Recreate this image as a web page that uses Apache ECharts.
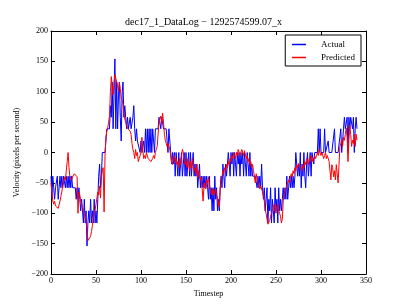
<!DOCTYPE html>
<html>
<head>
<meta charset="utf-8">
<script src="https://cdn.jsdelivr.net/npm/echarts@6/dist/echarts.min.js"></script>
<style>html,body{margin:0;padding:0;background:#fff;}#c{width:407px;height:305px;}</style>
</head>
<body>
<div id="c"></div>
<script>
var titleText = 'dec17_1_DataLog \u2212 1292574599.07_x';
var seriesNames = ['Actual', 'Predicted'];
var xTicks = [0, 50, 100, 150, 200, 250, 300, 350];
var yTicks = [-200, -150, -100, -50, 0, 50, 100, 150, 200];

var actual = [
-39,-77,-39,-58,-77,-58,-58,-39,-77,-58,
-39,-58,-39,-58,-39,-39,-58,-39,-58,-39,
-58,-39,-58,-39,-58,-58,-58,-58,-77,-58,
-77,-58,-77,-96,-77,-96,-116,-77,-116,-96,
-154,-116,-96,-116,-77,-116,-96,-116,-77,-116,
-96,-116,-77,-39,-19,-58,-39,0,0,0,
0,0,39,39,39,39,77,58,116,39,
96,154,39,116,39,96,116,58,19,96,
116,58,77,58,39,58,39,39,58,39,
39,58,77,39,19,39,19,19,19,0,
19,0,0,19,0,39,0,39,0,39,
0,39,0,39,39,0,39,39,39,39,
58,58,39,58,58,39,39,39,39,19,
0,39,39,0,-19,0,-19,0,-39,0,
-19,-39,0,-39,-19,0,-39,-19,0,-39,
0,-39,-19,0,-39,0,-39,-19,0,-39,
-19,-39,-19,-58,-39,-19,-58,-39,-58,-39,
-58,-39,-58,-39,-58,-77,-39,-77,-58,-96,
-58,-96,-39,-77,-58,-96,-77,-96,-58,-39,
-58,-19,-39,-58,-19,-39,-19,0,-19,-39,
0,-19,0,-39,0,-19,-39,0,-19,0,
-39,0,-19,0,-39,0,-19,-39,0,-19,
-39,0,-39,-19,-39,-39,-39,-39,-39,-58,
-39,-58,-39,-58,-19,-58,-77,-58,-96,-77,
-58,-116,-77,-96,-58,-116,-77,-96,-116,-58,
-96,-77,-116,-58,-96,-77,-96,-77,-58,-77,
-58,-77,-39,-77,-58,-39,-58,-39,-58,-39,
-58,-39,0,-19,-39,-19,-39,0,-58,-19,
-39,0,-39,-58,-19,0,-39,-19,0,-39,
0,0,-19,0,0,0,0,39,0,39,
0,0,0,0,39,0,0,0,19,0,
0,0,0,0,0,39,0,0,0,0,
0,0,39,0,19,39,58,39,39,58,
0,58,39,58,58,39,58,0,39,58,
39
];

var predicted = [
-50,-65,-80,-85,-80,-88,-90,-85,-92,-95,
-80,-72,-65,-55,-50,-40,-45,-30,-15,0,
-25,-40,-42,-45,-40,-38,-35,-33,-38,-40,
-100,-65,-70,-80,-85,-90,-95,-100,-105,-115,
-125,-145,-145,-142,-138,-130,-120,-110,-100,-95,
-85,-75,-65,-70,-55,-75,-40,-30,-25,-98,
-5,25,35,40,50,60,100,125,110,95,
115,128,122,120,110,100,115,105,90,88,
80,65,55,50,45,40,42,38,35,30,
15,5,0,-10,5,-5,0,-15,-10,-5,
0,25,5,-10,-5,-10,0,-5,-10,-8,
-12,-15,-18,-10,-5,-10,0,5,10,30,
50,55,60,48,65,50,30,20,15,10,
15,10,5,-5,-15,-20,-10,-5,-15,-10,
-20,-15,-25,-10,-20,-5,5,0,-10,-20,
-15,-25,-10,-20,-30,-15,-25,-10,-20,-30,
-25,-35,-20,-40,-30,-40,-45,-40,-60,-80,
-55,-50,-60,-45,-50,-40,-55,-60,-65,-70,
-60,-70,-65,-60,-70,-75,-85,-90,-60,-45,
-40,-30,-35,-25,-30,-20,-25,-15,-20,-10,
-15,-5,-10,0,-5,-10,0,-5,5,0,
-5,0,5,0,-5,3,0,-10,-5,-15,
-10,-20,-15,-25,-20,-30,-40,-50,-35,-45,
-50,-55,-60,-55,-60,-65,-70,-80,-95,-100,
-110,-118,-115,-112,-105,-100,-95,-90,-85,-95,
-100,-90,-85,-95,-100,-105,-116,-110,-80,-70,
-65,-60,-55,-50,-45,-50,-40,-35,-40,-30,
-35,-25,-30,-20,-25,-18,-22,-25,-20,-30,
-20,-25,-15,-20,-10,-15,-20,-10,-15,-5,
-10,-15,-10,-5,-10,-5,0,-5,5,0,
-5,0,-5,-10,-5,0,-10,-5,-5,-15,
-30,-45,-20,-25,-40,-30,-45,-20,-35,-50,
-20,10,15,20,10,25,20,30,40,25,
-15,20,45,30,10,20,15,30,10,30,
20
];

function pairs(arr) { return arr.map(function (v, i) { return [i, v]; }); }
function fmt(v) { return v < 0 ? '\u2212' + Math.abs(v) : String(v); }

var FONT = 'Liberation Serif';
var chart = echarts.init(document.getElementById('c'), null, { renderer: 'canvas' });
function axisCommon() {
  return {
    axisLine: { show: true, onZero: false, lineStyle: { color: '#000', width: 1 } },
    axisTick: { show: true, inside: true, length: 4, lineStyle: { color: '#000', width: 1 } },
    splitLine: { show: false }
  };
}
var colors = ['#0000ff', '#ff0000'];
chart.setOption({
  animation: false,
  backgroundColor: '#fff',
  color: colors,
  title: {
    text: titleText, left: 'center', top: 12,
    textStyle: { fontFamily: FONT, fontSize: 10, fontWeight: 'normal', color: '#000' }
  },
  legend: {
    right: 46, top: 35, orient: 'vertical',
    data: seriesNames,
    itemStyle: { opacity: 0 },
    lineStyle: { width: 1.5 },
    itemWidth: 14, itemHeight: 8, itemGap: 4,
    borderColor: '#000', borderWidth: 1, borderRadius: 0,
    padding: [5, 6, 4, 6],
    textStyle: { fontFamily: FONT, fontSize: 9, color: '#000', padding: [0, 0, 0, 10] }
  },
  grid: { left: 51, right: 41, top: 31, bottom: 31, containLabel: false },
  xAxis: [
    Object.assign({
      type: 'value', min: 0, max: 350, interval: 50,
      name: 'Timestep', nameLocation: 'middle', nameGap: 13,
      nameTextStyle: { fontFamily: FONT, fontSize: 8, color: '#000' },
      axisLabel: { fontFamily: FONT, fontSize: 8, color: '#000', margin: 3, formatter: fmt }
    }, axisCommon()),
    Object.assign({
      type: 'value', min: 0, max: 350, interval: 50, position: 'top',
      axisLabel: { show: false }
    }, axisCommon())
  ],
  yAxis: [
    Object.assign({
      type: 'value', min: -200, max: 200, interval: 50,
      name: 'Velocity (pixels per second)', nameLocation: 'middle', nameGap: 29,
      nameTextStyle: { fontFamily: FONT, fontSize: 8, color: '#000' },
      axisLabel: { fontFamily: FONT, fontSize: 8, color: '#000', margin: 3, formatter: fmt }
    }, axisCommon()),
    Object.assign({
      type: 'value', min: -200, max: 200, interval: 50, position: 'right',
      axisLabel: { show: false }
    }, axisCommon())
  ],
  series: [
    {
      name: seriesNames[0], type: 'line', data: pairs(actual),
      xAxisIndex: 0, yAxisIndex: 0, showSymbol: false, symbol: 'none',
      lineStyle: { color: colors[0], width: 1 }, itemStyle: { color: colors[0] }
    },
    {
      name: seriesNames[1], type: 'line', data: pairs(predicted),
      xAxisIndex: 0, yAxisIndex: 0, showSymbol: false, symbol: 'none',
      lineStyle: { color: colors[1], width: 1 }, itemStyle: { color: colors[1] }
    }
  ]
});
</script>
</body>
</html>
